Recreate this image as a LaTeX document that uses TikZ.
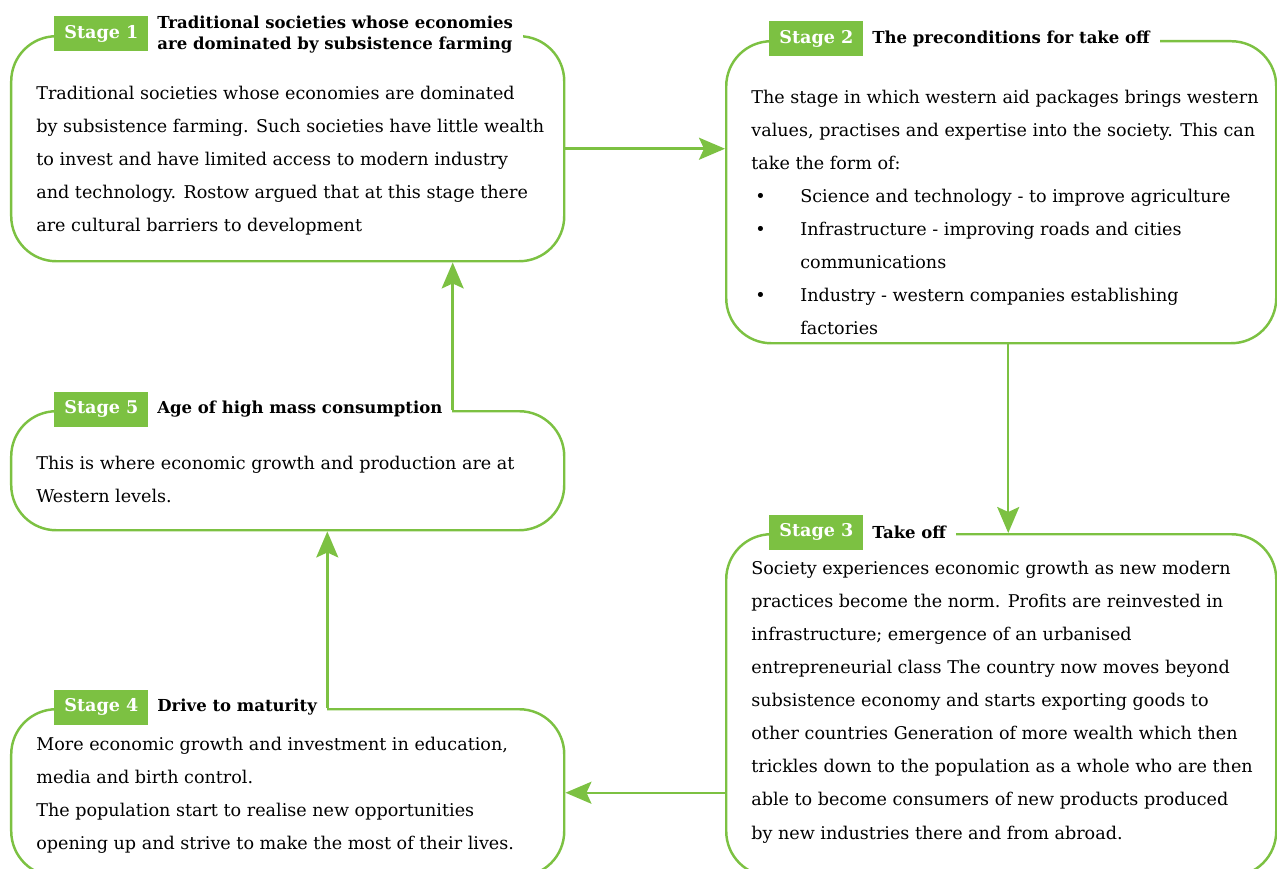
\documentclass[tikz,border=0pt]{standalone}
\usepackage{fontspec}
\setmainfont{DejaVu Serif}
\usetikzlibrary{arrows.meta,positioning}
\definecolor{leafgreen}{HTML}{7CC142}

\begin{document}
\begin{tikzpicture}[
    stagebox/.style={draw=leafgreen, line width=1.4pt, rounded corners=0.9cm, anchor=north west, inner sep=0pt},
    stagetag/.style={fill=leafgreen, text=white, font=\bfseries\fontsize{10}{11}\selectfont, minimum width=1.88cm, minimum height=0.7cm, inner sep=0pt, anchor=west},
    stagetitle/.style={fill=white, font=\bfseries\fontsize{9.4}{12}\selectfont, align=left, inner xsep=0.2cm, inner ysep=0.04cm, anchor=west},
    bodytext/.style={font=\fontsize{10}{18.8}\selectfont, align=left, anchor=north west, inner sep=0pt},
    flow/.style={draw=leafgreen, line width=1.4pt, -{Stealth[length=5.2mm, width=4.4mm, inset=1mm]}}
]
    \useasboundingbox (0,0) rectangle (25.54,-17.38);

    % Stage boxes
    \foreach \n/\x/\y/\w/\h in {1/0.2/-0.7/11.06/4.5, 2/14.5/-0.8/11.0/6.04, 3/14.5/-10.66/11.0/6.84, 4/0.2/-14.16/11.06/3.34, 5/0.2/-8.2/11.06/2.38} {
        \node[stagebox, minimum width=\w cm, minimum height=\h cm] (s\n) at (\x,\y) {};
    }

    % Titles
    \node[stagetitle] (t1) at ([xshift=2.74cm]s1.north west) {Traditional societies whose economies\\are dominated by subsistence farming};
    \node[stagetitle] (t2) at ([xshift=2.74cm,yshift=0.02cm]s2.north west) {The preconditions for take off};
    \node[stagetitle] (t3) at ([xshift=2.74cm,yshift=0.02cm]s3.north west) {Take off};
    \node[stagetitle] (t4) at ([xshift=2.74cm,yshift=0.02cm]s4.north west) {Drive to maturity};
    \node[stagetitle] (t5) at ([xshift=2.74cm,yshift=0.02cm]s5.north west) {Age of high mass consumption};

    % Stage tags
    \foreach \n in {1,...,5} {
        \node[stagetag] (l\n) at ([xshift=0.88cm,yshift=0.02cm]s\n.north west) {Stage \n};
    }

    % Body text
    \node[bodytext] (b1) at (0.72,-1.72) {Traditional societies whose economies are dominated\\by subsistence farming. Such societies have little wealth\\to invest and have limited access to modern industry\\and technology. Rostow argued that at this stage there\\are cultural barriers to development};
    \node[bodytext] (b2) at (15.02,-1.80) {The stage in which western aid packages brings western\\values, practises and expertise into the society. This can\\take the form of:\\\hspace*{0.08cm}\makebox[0.9cm][l]{\textbullet}Science and technology - to improve agriculture\\\hspace*{0.08cm}\makebox[0.9cm][l]{\textbullet}Infrastructure - improving roads and cities\\\hspace*{0.98cm}communications\\\hspace*{0.08cm}\makebox[0.9cm][l]{\textbullet}Industry - western companies establishing\\\hspace*{0.98cm}factories};
    \node[bodytext] (b3) at (15.02,-11.22) {Society experiences economic growth as new modern\\practices become the norm. Profits are reinvested in\\infrastructure; emergence of an urbanised\\entrepreneurial class The country now moves beyond\\subsistence economy and starts exporting goods to\\other countries Generation of more wealth which then\\trickles down to the population as a whole who are then\\able to become consumers of new products produced\\by new industries there and from abroad.};
    \node[bodytext] (b4) at (0.72,-14.74) {More economic growth and investment in education,\\media and birth control.\\The population start to realise new opportunities\\opening up and strive to make the most of their lives.};
    \node[bodytext] (b5) at (0.72,-9.12) {This is where economic growth and production are at\\Western levels.};

    % Arrows
    \draw[flow] (s1.east) -- (s1.east -| s2.west);
    \draw[flow] ([xshift=0.14cm]s2.south) -- ([xshift=0.14cm]s2.south |- s3.north);
    \draw[flow] (s4.east -| s3.west) -- (s4.east);
    \draw[flow] (t4.east |- s4.north) -- (t4.east |- s5.south);
    \draw[flow] (t5.east |- s5.north) -- (t5.east |- s1.south);
\end{tikzpicture}
\end{document}
